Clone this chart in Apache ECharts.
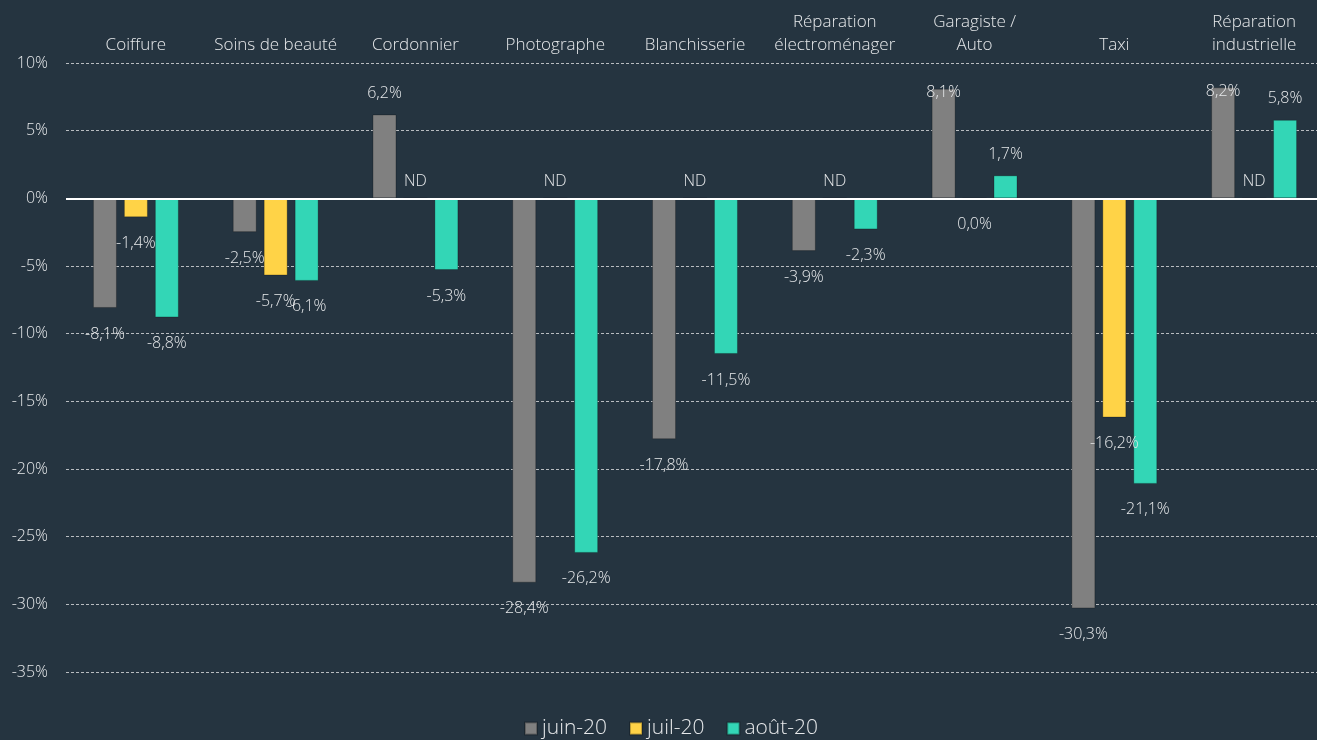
<html>
<head>
    <meta charset="utf-8" />
    <script src="https://cdn.jsdelivr.net/npm/echarts@6/dist/echarts.min.js"></script>
    <style>
        html, body { margin: 0; padding: 0; background: #253440; }
        #chart { width: 1317px; height: 740px; }
    </style>
</head>
<body>
    <div id="chart"></div>
    <script type="text/javascript">
        // données
        var categories = ['Coiffure', 'Soins de beauté', 'Cordonnier', 'Photographe', 'Blanchisserie',
            'Réparation\nélectroménager', 'Garagiste /\nAuto', 'Taxi', 'Réparation\nindustrielle'];
        var seriesNames = ['juin-20', 'juil-20', 'août-20'];
        var juin = [-8.1, -2.5, 6.2, -28.4, -17.8, -3.9, 8.1, -30.3, 8.2];
        var juil = [-1.4, -5.7, null, null, null, null, 0.0, -16.2, null];   // null = ND
        var aout = [-8.8, -6.1, -5.3, -26.2, -11.5, -2.3, 1.7, -21.1, 5.8];
        var colors = ['#808080', '#ffd347', '#33d6b6'];

        var font = 'Open Sans';
        var txt = '#e6e8ea';

        function fmt(v) {
            return v.toFixed(1).replace('.', ',') + '%';
        }

        function buildData(arr) {
            return arr.map(function (v) {
                if (v === null) {
                    return { value: 0, label: { position: 'top', distance: 8, formatter: 'ND' } };
                }
                var dist = v > 0 ? 13 : 18;
                if (v > 7) dist = -12;   // collé au haut du graphique
                return {
                    value: v,
                    label: { position: v > 0 ? 'top' : 'bottom', distance: dist, formatter: fmt(v) }
                };
            });
        }

        var allData = [juin, juil, aout];
        var series = allData.map(function (arr, i) {
            var s = {
                name: seriesNames[i],
                type: 'bar',
                barWidth: 24,
                barGap: '29%',
                itemStyle: { color: colors[i], borderColor: 'rgba(0,0,0,0.25)', borderWidth: 1 },
                label: { show: true, color: txt, fontFamily: font, fontSize: 16, fontWeight: 300 },
                labelLayout: { hideOverlap: false },
                z: 2,
                data: buildData(arr)
            };
            if (i === 0) {
                s.markLine = {
                    silent: true,
                    symbol: 'none',
                    label: { show: false },
                    lineStyle: { color: '#ffffff', width: 2, type: 'solid' },
                    data: [{ yAxis: 0 }]
                };
            }
            return s;
        });

        var chart = echarts.init(document.getElementById('chart'));
        var option = {
            backgroundColor: '#253440',
            animation: false,
            textStyle: { fontFamily: font },
            grid: { left: 66, width: 1258, top: 63, bottom: 68, containLabel: false, outerBoundsMode: 'none' },
            legend: {
                top: 713,
                left: 519,
                itemWidth: 12,
                itemHeight: 12,
                itemGap: 22,
                icon: 'rect',
                textStyle: { color: txt, fontSize: 21, fontFamily: font, fontWeight: 300 },
                data: seriesNames
            },
            xAxis: {
                type: 'category',
                position: 'top',
                data: categories,
                axisLine: { show: false },
                axisTick: { show: false },
                axisLabel: {
                    color: txt, fontSize: 17, fontFamily: font, fontWeight: 300, lineHeight: 23,
                    margin: 6, interval: 0, verticalAlign: 'bottom'
                }
            },
            yAxis: {
                type: 'value',
                min: -35,
                max: 10,
                interval: 5,
                axisLine: { show: false },
                axisTick: { show: false },
                axisLabel: {
                    color: txt, fontSize: 16, fontFamily: font, fontWeight: 300, margin: 18,
                    formatter: function (v) { return v + '%'; }
                },
                splitLine: { lineStyle: { color: '#b8bcc0', type: [3, 2], width: 1 } }
            },
            series: series
        };
        chart.setOption(option);
    </script>
</body>
</html>
